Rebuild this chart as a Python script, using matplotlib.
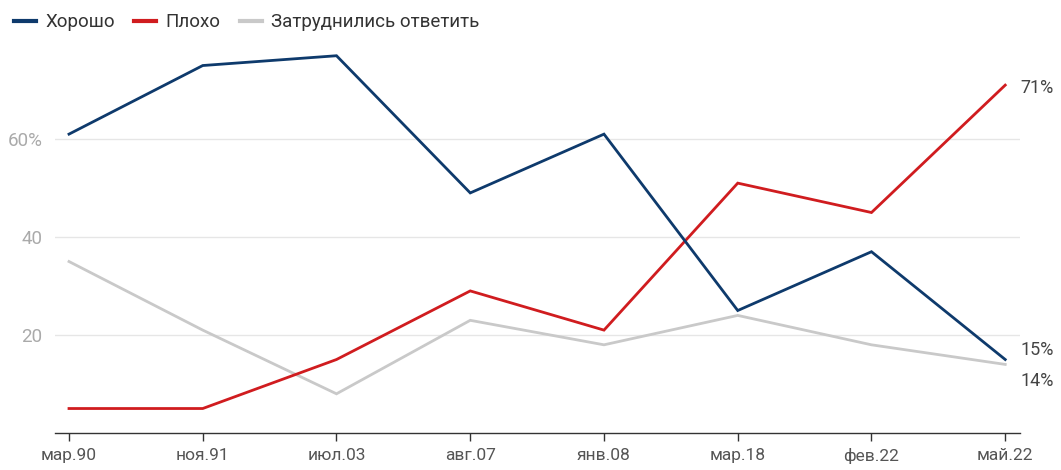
import matplotlib
matplotlib.use('Agg')
import matplotlib.pyplot as plt
from matplotlib.lines import Line2D

# data
dates = ['мар.90', 'ноя.91', 'июл.03', 'авг.07', 'янв.08', 'мар.18', 'фев.22', 'май.22']
good = [61, 75, 77, 49, 61, 25, 37, 15]
bad = [5, 5, 15, 29, 21, 51, 45, 71]
unsure = [35, 21, 8, 23, 18, 24, 18, 14]

series_names = ['Хорошо', 'Плохо', 'Затруднились ответить']
colors = ['#0e3a6c', '#d01c1f', '#c9c9c9']

plt.rcParams['font.family'] = ['Roboto', 'DejaVu Sans']

fig = plt.figure(figsize=(10.61, 4.70), dpi=100)
ax = fig.add_axes([0.0518, 0.0787, 0.9095, 0.834])

x = list(range(len(dates)))
for vals, c in zip([unsure, bad, good], [colors[2], colors[1], colors[0]]):
    ax.plot(x, vals, color=c, lw=2.0, solid_joinstyle='miter', zorder=3)

ax.set_xlim(-0.105, 7.11)
ax.set_ylim(0, 80)
ax.set_yticks([20, 40, 60])
ax.set_yticklabels(['20', '40', '60%'])
ax.grid(axis='y', color='#e6e6e6', lw=1)
ax.set_axisbelow(True)

for s in ['top', 'right', 'left']:
    ax.spines[s].set_visible(False)
ax.spines['bottom'].set_color('#333333')
ax.spines['bottom'].set_linewidth(1)

ax.set_xticks(x)
ax.set_xticklabels(dates)
ax.tick_params(axis='x', length=6, width=1, color='#333333', labelsize=12.5,
               labelcolor='#555555', pad=5)
ax.tick_params(axis='y', length=0, labelsize=13.5, labelcolor='#aaaaaa', pad=9)

# end labels
ax.annotate(f'{bad[-1]}%', (x[-1], bad[-1]), xytext=(11, -2), textcoords='offset points',
            va='center', ha='left', fontsize=13, color='#444444')
ax.annotate(f'{good[-1]}%', (x[-1], good[-1]), xytext=(11, 6.5), textcoords='offset points',
            va='center', ha='left', fontsize=13, color='#444444')
ax.annotate(f'{unsure[-1]}%', (x[-1], unsure[-1]), xytext=(11, -12), textcoords='offset points',
            va='center', ha='left', fontsize=13, color='#444444')

handles = [Line2D([], [], color=c, lw=3) for c in colors]
fig.legend(handles, series_names, loc='upper left', bbox_to_anchor=(-0.003, 1.008), ncol=3,
           frameon=False, fontsize=13.5, handlelength=1.2, handletextpad=0.5,
           columnspacing=1.0, labelcolor='#333333')

fig.savefig('out.png', dpi=100)
